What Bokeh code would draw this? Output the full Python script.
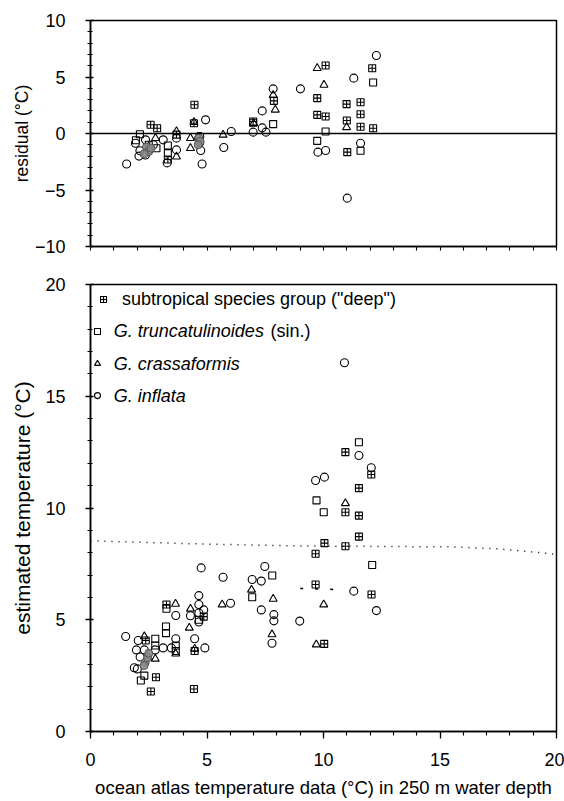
from bokeh.plotting import figure
from bokeh.layouts import column
from bokeh.models import Span, FixedTicker
from bokeh.core.properties import value
from bokeh.embed import file_html
from bokeh.resources import INLINE

FONT = "Liberation Sans"

# ---------------- residual panel (top) ----------------
res_subtrop_x = [2.58, 2.86, 3.32, 3.69, 4.46, 4.44, 7.87, 10.09, 9.73, 9.73, 10.09,
                 10.99, 11.59, 11.59, 11.0, 11.59, 12.13, 12.09, 11.02, 6.98]
res_subtrop_y = [0.77, 0.47, -2.3, -0.1, 2.54, 0.91, 2.89, 6.02, 3.13, 1.65, 1.5,
                 2.6, 2.77, 1.7, 1.15, 0.6, 0.47, 5.78, -1.65, 1.06]

res_trunc_x = [2.12, 2.83, 3.32, 3.32, 7.84, 10.09, 9.73, 12.13, 11.59, 6.98, 2.5, 1.95]
res_trunc_y = [-0.06, -1.3, -1.06, -1.74, 0.83, 0.18, -0.65, 4.51, -1.53, 0.95, -1.0, -0.6]

res_crassa_x = [2.79, 3.69, 3.69, 4.44, 4.29, 4.29, 5.69, 7.0, 7.84, 7.93, 9.73, 10.02, 10.99, 4.6]
res_crassa_y = [-0.41, 0.18, -2.05, 1.0, -0.41, -1.3, -0.12, 0.9, 3.4, 2.1, 5.78, 4.3, 0.55, -0.3]

res_inflata_x = [1.55, 1.93, 2.12, 2.08, 2.36, 2.5, 2.36, 3.12, 3.29, 3.69, 3.69, 4.69,
                 4.69, 4.73, 4.79, 4.94, 5.72, 6.04, 6.98, 7.37, 7.37, 7.53, 7.84, 9.01,
                 9.76, 10.09, 11.3, 12.27, 11.59, 11.02, 2.7]
res_inflata_y = [-2.7, -0.86, -1.53, -2.0, -0.56, -1.45, -1.9, -0.56, -2.6, -0.41, -1.45, -0.27,
                 -0.8, -1.5, -2.7, 1.21, -1.24, 0.18, 0.12, 2.0, 0.5, 0.12, 3.95, 3.95,
                 -1.65, -1.5, 4.9, 6.9, -0.86, -5.72, -1.0]

# densely overlapping samples (rendered as a dark blot)
res_dense_x = [2.4, 2.5, 2.3, 2.6, 4.65, 4.7, 4.62]
res_dense_y = [-1.2, -1.6, -1.8, -1.3, -0.4, -0.7, -1.0]

# ---------------- estimated temperature panel (bottom) ----------------
est_subtrop_x = [2.37, 2.81, 2.59, 4.44, 3.26, 4.47, 4.86, 10.03, 10.04, 9.66, 9.66,
                 10.94, 12.05, 11.52, 10.94, 11.52, 10.94, 11.52, 12.06]
est_subtrop_y = [4.07, 2.43, 1.79, 1.9, 5.68, 3.6, 5.14, 3.92, 8.43, 7.95, 6.58,
                 12.5, 11.5, 10.89, 9.81, 9.66, 8.29, 8.72, 6.13]

est_trunc_x = [2.78, 2.78, 3.24, 3.24, 3.66, 3.66, 2.16, 2.31, 3.26, 6.94, 7.8,
               9.7, 10.01, 11.52, 12.09, 4.65]
est_trunc_y = [4.15, 3.85, 4.7, 4.4, 3.85, 3.6, 2.28, 2.5, 5.49, 6.01, 6.98,
               10.34, 9.81, 12.94, 7.45, 5.0]

est_crassa_x = [2.31, 2.47, 2.78, 3.66, 3.65, 4.24, 4.29, 4.47, 5.65, 6.91, 7.84,
                7.79, 9.69, 10.01, 10.94]
est_crassa_y = [4.25, 3.33, 3.25, 3.48, 5.71, 4.64, 5.49, 3.7, 5.68, 6.34, 5.93,
                4.34, 3.89, 5.68, 10.21]

est_inflata_x = [1.51, 2.05, 1.97, 2.31, 2.78, 3.12, 3.47, 3.66, 4.47, 4.91, 2.13,
                 1.88, 2.01, 3.66, 4.65, 4.65, 4.86, 4.29, 4.65, 4.65, 4.75, 5.69,
                 6.01, 6.94, 7.33, 7.48, 7.33, 7.87, 7.87, 8.98, 7.79, 9.66, 10.04,
                 11.52, 12.05, 11.3, 12.27, 10.9]
est_inflata_y = [4.25, 4.07, 3.65, 3.65, 3.65, 3.74, 3.74, 4.15, 4.15, 3.74, 3.33,
                 2.85, 2.8, 5.19, 6.08, 5.68, 5.44, 5.18, 5.3, 4.9, 7.32, 6.9,
                 5.74, 6.8, 6.73, 7.38, 5.44, 5.23, 4.95, 4.94, 3.95, 11.23, 11.38,
                 12.35, 11.8, 6.28, 5.41, 16.5]

est_dense_x = [2.35, 2.45, 2.3, 2.5]
est_dense_y = [3.1, 3.3, 2.95, 3.5]

# dotted reference curve
ref_x = [0.0, 4.74, 9.05, 15.5, 17.5, 18.5, 19.8, 20.0]
ref_y = [8.53, 8.39, 8.30, 8.26, 8.17, 8.08, 7.95, 7.90]
ref2_x = [9.0, 10.7]
ref2_y = [6.40, 6.35]

x_ticks = [0, 5, 10, 15, 20]
res_ticks = [-10, -5, 0, 5, 10]
est_ticks = [0, 5, 10, 15, 20]

legend_labels = ['subtropical species group ("deep")', "G. truncatulinoides",
                 "G. crassaformis", "G. inflata"]
legend_suffix = "(sin.)"

MK = dict(line_color="black", line_width=1.1, fill_alpha=0)


def style(p, yticks):
    p.outline_line_color = "black"
    p.outline_line_width = 1.5
    p.xgrid.visible = False
    p.ygrid.visible = False
    p.background_fill_color = "white"
    p.border_fill_color = "white"
    for ax in p.xaxis + p.yaxis:
        ax.axis_line_width = 1.5
        ax.major_tick_line_width = 1.3
        ax.minor_tick_line_width = 1.1
        ax.major_label_text_font = FONT
        ax.major_label_text_font_size = "18px"
        ax.major_label_text_color = "black"
        ax.axis_label_text_font = FONT
        ax.axis_label_text_font_size = "17.5px"
        ax.axis_label_text_font_style = "normal"
        ax.axis_label_text_color = "black"
    p.xaxis.ticker = FixedTicker(ticks=x_ticks, minor_ticks=list(range(0, 21)))
    p.xaxis.major_tick_out = 7
    p.xaxis.major_tick_in = 0
    p.xaxis.minor_tick_out = 4
    p.xaxis.minor_tick_in = 0
    lo, hi = yticks[0], yticks[-1]
    p.yaxis.ticker = FixedTicker(ticks=yticks, minor_ticks=list(range(lo, hi + 1)))
    p.yaxis.major_tick_out = 5
    p.yaxis.major_tick_in = 3
    p.yaxis.minor_tick_out = 3
    p.yaxis.minor_tick_in = 2
    p.yaxis.major_label_standoff = 20


def draw(p, sx, sy, tx, ty, cx, cy, ix, iy, dx, dy):
    p.scatter(ix, iy, marker="circle", size=8, **MK)
    p.scatter(tx, ty, marker="square", size=7, **MK)
    p.scatter(cx, cy, marker="triangle", size=8, **MK)
    p.scatter(sx, sy, marker="square_cross", size=7, **MK)
    p.scatter(dx, dy, marker="circle", size=8, line_color="#555555",
              fill_color="#8a8a8a", fill_alpha=0.9, line_width=1)


# ---- top: residuals ----
top = figure(width=564, height=264, x_range=(0, 20), y_range=(-10, 10),
             output_backend="svg", toolbar_location=None,
             min_border_left=90, min_border_right=8, min_border_top=20,
             min_border_bottom=18)
style(top, res_ticks)
# shared x scale: this panel only carries unlabelled tick marks
top.xaxis.ticker = FixedTicker(ticks=[], minor_ticks=list(range(0, 21)))
top.xaxis.minor_tick_out = 4
top.xaxis.major_label_standoff = 0
top.yaxis.axis_label = "residual (°C)"
top.yaxis.axis_label_standoff = 0
top.add_layout(Span(location=0, dimension="width", line_color="black", line_width=1.5))
draw(top, res_subtrop_x, res_subtrop_y, res_trunc_x, res_trunc_y,
     res_crassa_x, res_crassa_y, res_inflata_x, res_inflata_y,
     res_dense_x, res_dense_y)

# ---- bottom: estimated vs. atlas temperature ----
bot = figure(width=564, height=537, x_range=(0, 20), y_range=(0, 20),
             output_backend="svg", toolbar_location=None,
             min_border_left=90, min_border_right=8, min_border_top=20,
             min_border_bottom=70)
style(bot, est_ticks)
bot.xaxis.major_label_standoff = 14
bot.xaxis.axis_label = "ocean atlas temperature data (°C) in 250 m water depth"
bot.xaxis.axis_label_text_font_size = "18.5px"
bot.xaxis.axis_label_standoff = 8
bot.yaxis.axis_label = "estimated temperature (°C)"
bot.yaxis.axis_label_text_font_size = "21px"
bot.yaxis.axis_label_standoff = 8
bot.line(ref_x, ref_y, line_color="black", line_width=1.5, line_dash="1 6")
bot.line(ref2_x, ref2_y, line_color="black", line_width=1.5, line_dash="3 12")
draw(bot, est_subtrop_x, est_subtrop_y, est_trunc_x, est_trunc_y,
     est_crassa_x, est_crassa_y, est_inflata_x, est_inflata_y,
     est_dense_x, est_dense_y)

# legend box, drawn in the upper-left corner of the lower panel
lg_rows = [19.33, 17.9, 16.46, 15.03]
lg_mk_x = [0.56, 0.3, 0.3, 0.3]
lg_markers = ["square_cross", "square", "triangle", "circle"]
for yy, mx, mk in zip(lg_rows, lg_mk_x, lg_markers):
    bot.scatter([mx], [yy], marker=mk, size=6, **MK)
txt = dict(text_font=value(FONT), text_font_size="18px", text_baseline="middle",
           text_align="left", text_color="black")
bot.text([1.35], [lg_rows[0]], text=[legend_labels[0]], **txt)
bot.text([1.0] * 3, lg_rows[1:], text=legend_labels[1:], text_font_style="italic", **txt)
bot.text([7.73], [lg_rows[1]], text=[legend_suffix], **txt)

layout = column(top, bot, spacing=0)
open("out.html", "w").write(file_html(layout, INLINE))
